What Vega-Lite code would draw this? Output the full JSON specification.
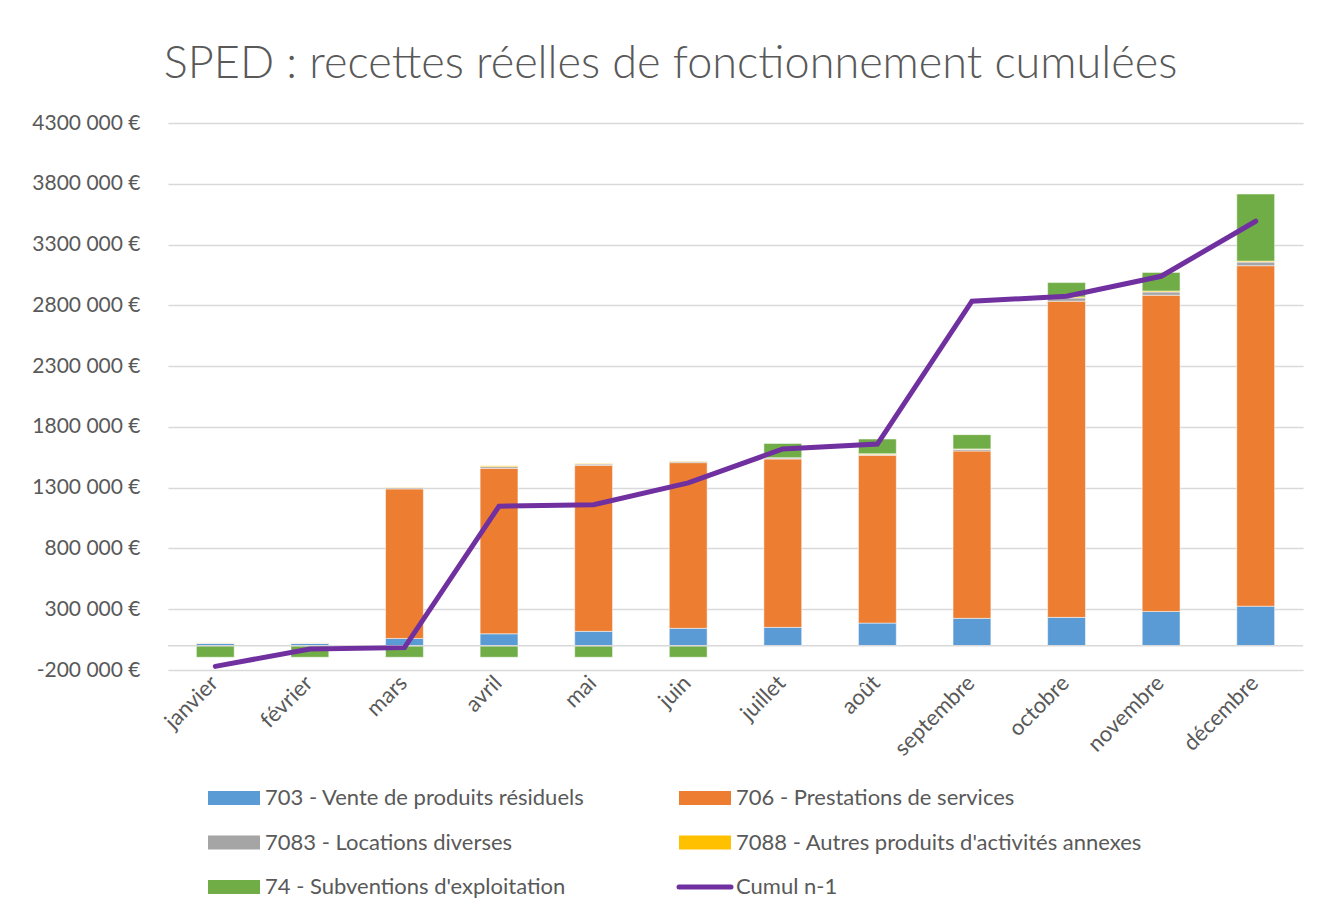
{
  "$schema": "https://vega.github.io/schema/vega-lite/v6.json",
  "width": 1135,
  "height": 547,
  "autosize": {"type": "none"},
  "padding": {"left": 168, "top": 123, "right": 18, "bottom": 242},
  "background": "white",
  "title": {
    "text": "SPED : recettes réelles de fonctionnement cumulées",
    "font": "Lato",
    "fontSize": 45,
    "fontWeight": 300,
    "color": "#595959",
    "anchor": "middle",
    "frame": "group",
    "baseline": "alphabetic",
    "offset": -11,
    "dx": -65
  },
  "datasets": {
    "barres": [
      {"mois": "janvier", "serie": "703 - Vente de produits résiduels", "ordre": 1, "valeur": 20000},
      {"mois": "janvier", "serie": "706 - Prestations de services", "ordre": 2, "valeur": 0},
      {"mois": "janvier", "serie": "7083 - Locations diverses", "ordre": 3, "valeur": 3000},
      {"mois": "janvier", "serie": "7088 - Autres produits d'activités annexes", "ordre": 4, "valeur": 1000},
      {"mois": "janvier", "serie": "74 - Subventions d'exploitation", "ordre": 5, "valeur": -95000},
      {"mois": "février", "serie": "703 - Vente de produits résiduels", "ordre": 1, "valeur": 20000},
      {"mois": "février", "serie": "706 - Prestations de services", "ordre": 2, "valeur": 0},
      {"mois": "février", "serie": "7083 - Locations diverses", "ordre": 3, "valeur": 3000},
      {"mois": "février", "serie": "7088 - Autres produits d'activités annexes", "ordre": 4, "valeur": 1000},
      {"mois": "février", "serie": "74 - Subventions d'exploitation", "ordre": 5, "valeur": -95000},
      {"mois": "mars", "serie": "703 - Vente de produits résiduels", "ordre": 1, "valeur": 60000},
      {"mois": "mars", "serie": "706 - Prestations de services", "ordre": 2, "valeur": 1230000},
      {"mois": "mars", "serie": "7083 - Locations diverses", "ordre": 3, "valeur": 10000},
      {"mois": "mars", "serie": "7088 - Autres produits d'activités annexes", "ordre": 4, "valeur": 3000},
      {"mois": "mars", "serie": "74 - Subventions d'exploitation", "ordre": 5, "valeur": -95000},
      {"mois": "avril", "serie": "703 - Vente de produits résiduels", "ordre": 1, "valeur": 98000},
      {"mois": "avril", "serie": "706 - Prestations de services", "ordre": 2, "valeur": 1361000},
      {"mois": "avril", "serie": "7083 - Locations diverses", "ordre": 3, "valeur": 14000},
      {"mois": "avril", "serie": "7088 - Autres produits d'activités annexes", "ordre": 4, "valeur": 8000},
      {"mois": "avril", "serie": "74 - Subventions d'exploitation", "ordre": 5, "valeur": -95000},
      {"mois": "mai", "serie": "703 - Vente de produits résiduels", "ordre": 1, "valeur": 118000},
      {"mois": "mai", "serie": "706 - Prestations de services", "ordre": 2, "valeur": 1366000},
      {"mois": "mai", "serie": "7083 - Locations diverses", "ordre": 3, "valeur": 10000},
      {"mois": "mai", "serie": "7088 - Autres produits d'activités annexes", "ordre": 4, "valeur": 4000},
      {"mois": "mai", "serie": "74 - Subventions d'exploitation", "ordre": 5, "valeur": -95000},
      {"mois": "juin", "serie": "703 - Vente de produits résiduels", "ordre": 1, "valeur": 143000},
      {"mois": "juin", "serie": "706 - Prestations de services", "ordre": 2, "valeur": 1363000},
      {"mois": "juin", "serie": "7083 - Locations diverses", "ordre": 3, "valeur": 10000},
      {"mois": "juin", "serie": "7088 - Autres produits d'activités annexes", "ordre": 4, "valeur": 4000},
      {"mois": "juin", "serie": "74 - Subventions d'exploitation", "ordre": 5, "valeur": -95000},
      {"mois": "juillet", "serie": "703 - Vente de produits résiduels", "ordre": 1, "valeur": 151000},
      {"mois": "juillet", "serie": "706 - Prestations de services", "ordre": 2, "valeur": 1385000},
      {"mois": "juillet", "serie": "7083 - Locations diverses", "ordre": 3, "valeur": 8000},
      {"mois": "juillet", "serie": "7088 - Autres produits d'activités annexes", "ordre": 4, "valeur": 3000},
      {"mois": "juillet", "serie": "74 - Subventions d'exploitation", "ordre": 5, "valeur": 117000},
      {"mois": "août", "serie": "703 - Vente de produits résiduels", "ordre": 1, "valeur": 186000},
      {"mois": "août", "serie": "706 - Prestations de services", "ordre": 2, "valeur": 1380000},
      {"mois": "août", "serie": "7083 - Locations diverses", "ordre": 3, "valeur": 6000},
      {"mois": "août", "serie": "7088 - Autres produits d'activités annexes", "ordre": 4, "valeur": 8000},
      {"mois": "août", "serie": "74 - Subventions d'exploitation", "ordre": 5, "valeur": 120000},
      {"mois": "septembre", "serie": "703 - Vente de produits résiduels", "ordre": 1, "valeur": 225000},
      {"mois": "septembre", "serie": "706 - Prestations de services", "ordre": 2, "valeur": 1377000},
      {"mois": "septembre", "serie": "7083 - Locations diverses", "ordre": 3, "valeur": 14000},
      {"mois": "septembre", "serie": "7088 - Autres produits d'activités annexes", "ordre": 4, "valeur": 3000},
      {"mois": "septembre", "serie": "74 - Subventions d'exploitation", "ordre": 5, "valeur": 117000},
      {"mois": "octobre", "serie": "703 - Vente de produits résiduels", "ordre": 1, "valeur": 233000},
      {"mois": "octobre", "serie": "706 - Prestations de services", "ordre": 2, "valeur": 2601000},
      {"mois": "octobre", "serie": "7083 - Locations diverses", "ordre": 3, "valeur": 27000},
      {"mois": "octobre", "serie": "7088 - Autres produits d'activités annexes", "ordre": 4, "valeur": 8000},
      {"mois": "octobre", "serie": "74 - Subventions d'exploitation", "ordre": 5, "valeur": 118000},
      {"mois": "novembre", "serie": "703 - Vente de produits résiduels", "ordre": 1, "valeur": 282000},
      {"mois": "novembre", "serie": "706 - Prestations de services", "ordre": 2, "valeur": 2601000},
      {"mois": "novembre", "serie": "7083 - Locations diverses", "ordre": 3, "valeur": 27000},
      {"mois": "novembre", "serie": "7088 - Autres produits d'activités annexes", "ordre": 4, "valeur": 8000},
      {"mois": "novembre", "serie": "74 - Subventions d'exploitation", "ordre": 5, "valeur": 153000},
      {"mois": "décembre", "serie": "703 - Vente de produits résiduels", "ordre": 1, "valeur": 325000},
      {"mois": "décembre", "serie": "706 - Prestations de services", "ordre": 2, "valeur": 2801000},
      {"mois": "décembre", "serie": "7083 - Locations diverses", "ordre": 3, "valeur": 30000},
      {"mois": "décembre", "serie": "7088 - Autres produits d'activités annexes", "ordre": 4, "valeur": 8000},
      {"mois": "décembre", "serie": "74 - Subventions d'exploitation", "ordre": 5, "valeur": 552000}
    ],
    "cumul": [
      {"mois": "janvier", "serie": "Cumul n-1", "valeur": -170000},
      {"mois": "février", "serie": "Cumul n-1", "valeur": -27000},
      {"mois": "mars", "serie": "Cumul n-1", "valeur": -16000},
      {"mois": "avril", "serie": "Cumul n-1", "valeur": 1148000},
      {"mois": "mai", "serie": "Cumul n-1", "valeur": 1159000},
      {"mois": "juin", "serie": "Cumul n-1", "valeur": 1339000},
      {"mois": "juillet", "serie": "Cumul n-1", "valeur": 1618000},
      {"mois": "août", "serie": "Cumul n-1", "valeur": 1659000},
      {"mois": "septembre", "serie": "Cumul n-1", "valeur": 2834000},
      {"mois": "octobre", "serie": "Cumul n-1", "valeur": 2875000},
      {"mois": "novembre", "serie": "Cumul n-1", "valeur": 3039000},
      {"mois": "décembre", "serie": "Cumul n-1", "valeur": 3492000}
    ]
  },
  "layer": [
    {
      "data": {"name": "barres"},
      "mark": {"type": "bar", "stroke": "white", "strokeWidth": 0.5},
      "encoding": {
        "x": {
          "field": "mois",
          "type": "nominal",
          "sort": ["janvier", "février", "mars", "avril", "mai", "juin", "juillet", "août", "septembre", "octobre", "novembre", "décembre"],
          "scale": {"paddingInner": 0.6, "paddingOuter": 0.3},
          "title": null,
          "axis": {
            "labelAngle": -45,
            "labelFont": "Lato",
            "labelFontSize": 22,
            "labelColor": "#595959",
            "labelPadding": 2,
            "labelOffset": -8,
            "domain": false,
            "ticks": false,
            "grid": false
          }
        },
        "y": {
          "field": "valeur",
          "type": "quantitative",
          "stack": "zero",
          "scale": {"domain": [-200000, 4300000], "nice": false, "zero": false},
          "title": null,
          "axis": {
            "values": [-200000, 300000, 800000, 1300000, 1800000, 2300000, 2800000, 3300000, 3800000, 4300000],
            "labelExpr": "floor(datum.value / 1000) + ' 000 €'",
            "labelFont": "Lato",
            "labelFontSize": 21,
            "labelColor": "#595959",
            "labelPadding": 28,
            "domain": false,
            "ticks": false,
            "grid": true,
            "gridColor": "#d9d9d9",
            "gridWidth": 1.5
          }
        },
        "color": {
          "field": "serie",
          "type": "nominal",
          "scale": {
            "domain": ["703 - Vente de produits résiduels", "706 - Prestations de services", "7083 - Locations diverses", "7088 - Autres produits d'activités annexes", "74 - Subventions d'exploitation", "Cumul n-1"],
            "range": ["#5b9bd5", "#ed7d31", "#a5a5a5", "#ffc000", "#70ad47", "#7030a0"]
          },
          "legend": {
            "title": null,
            "orient": "none",
            "legendX": 39,
            "legendY": 664,
            "direction": "horizontal",
            "columns": 2,
            "columnPadding": 84,
            "rowPadding": 22.5,
            "padding": 0,
            "symbolType": "M-2.6,-0.7H2.6V0.7H-2.6Z",
            "symbolSize": 400,
            "symbolOffset": 16,
            "labelOffset": 20,
            "labelFont": "Lato",
            "labelFontSize": 22,
            "labelColor": "#595959",
            "labelLimit": 0,
            "encode": {
              "symbols": {
                "update": {
                  "shape": {"signal": "datum.value === 'Cumul n-1' ? 'M-2.6,0H2.6' : 'M-2.6,-0.7H2.6V0.7H-2.6Z'"},
                  "fill": {"signal": "datum.value === 'Cumul n-1' ? 'transparent' : scale('color', datum.value)"},
                  "stroke": {"signal": "scale('color', datum.value)"},
                  "strokeWidth": {"signal": "datum.value === 'Cumul n-1' ? 5 : 0"},
                  "strokeCap": {"value": "round"},
                  "opacity": {"value": 1}
                }
              }
            }
          }
        },
        "order": {"field": "ordre", "type": "quantitative", "sort": "ascending"}
      }
    },
    {
      "data": {"values": [{"zero": 0}]},
      "mark": {"type": "rule", "color": "#d9d9d9", "strokeWidth": 1.5},
      "encoding": {"y": {"datum": 0}}
    },
    {
      "data": {"name": "cumul"},
      "mark": {"type": "line", "strokeWidth": 5, "strokeCap": "round"},
      "encoding": {
        "x": {
          "field": "mois",
          "type": "nominal",
          "sort": ["janvier", "février", "mars", "avril", "mai", "juin", "juillet", "août", "septembre", "octobre", "novembre", "décembre"]
        },
        "y": {"field": "valeur", "type": "quantitative"},
        "color": {
          "field": "serie",
          "type": "nominal",
          "legend": {
            "title": null,
            "orient": "none",
            "legendX": 39,
            "legendY": 664,
            "direction": "horizontal",
            "columns": 2,
            "columnPadding": 84,
            "rowPadding": 22.5,
            "padding": 0,
            "symbolType": "M-2.6,-0.7H2.6V0.7H-2.6Z",
            "symbolSize": 400,
            "symbolOffset": 16,
            "labelOffset": 20,
            "labelFont": "Lato",
            "labelFontSize": 22,
            "labelColor": "#595959",
            "labelLimit": 0,
            "encode": {
              "symbols": {
                "update": {
                  "shape": {"signal": "datum.value === 'Cumul n-1' ? 'M-2.6,0H2.6' : 'M-2.6,-0.7H2.6V0.7H-2.6Z'"},
                  "fill": {"signal": "datum.value === 'Cumul n-1' ? 'transparent' : scale('color', datum.value)"},
                  "stroke": {"signal": "scale('color', datum.value)"},
                  "strokeWidth": {"signal": "datum.value === 'Cumul n-1' ? 5 : 0"},
                  "strokeCap": {"value": "round"},
                  "opacity": {"value": 1}
                }
              }
            }
          }
        }
      }
    }
  ],
  "config": {
    "view": {"stroke": null}
  }
}
